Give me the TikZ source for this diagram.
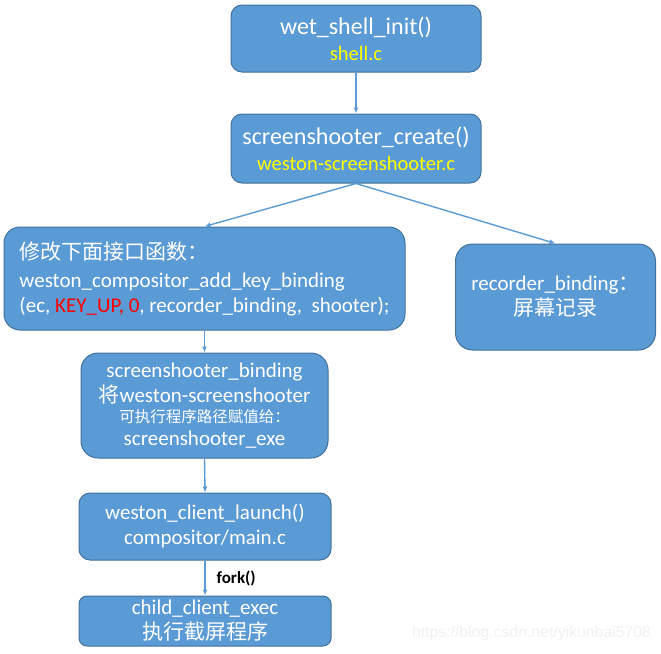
\documentclass[tikz,border=0pt]{standalone}
\usepackage{fontspec}
\setmainfont{Carlito}
\newfontfamily\cjk{Noto Sans CJK SC}
\newfontfamily\markfont{Liberation Sans}
\usetikzlibrary{arrows.meta}
\definecolor{boxblue}{HTML}{5B9BD5}
\definecolor{boxline}{HTML}{41719C}
\definecolor{fileyellow}{HTML}{FFFF00}
\definecolor{argred}{HTML}{FF0000}

\begin{document}
\begin{tikzpicture}[x=1pt, y=-1pt,
	blk/.style={draw=boxline, fill=boxblue, line width=1pt, text=white, align=center, inner sep=0pt,
		font=\fontsize{21}{25}\selectfont},
	link/.style={draw=boxblue, line width=1.4pt, -{Latex[length=6pt,width=5pt]}}]
	\useasboundingbox (0,0) rectangle (661,653);
	% boxes
	\node[blk, minimum width=250pt, minimum height=67pt, rounded corners=11pt] (init) at (356,38.5)
	{{\fontsize{24}{26}\selectfont wet\_shell\_init()}\\[1pt] {\fontsize{20.5}{25}\selectfont\color{fileyellow} shell.c}};
	\node[blk, minimum width=250pt, minimum height=69pt, rounded corners=11pt] (create) at (356,148.5)
	{{\fontsize{24}{26}\selectfont screenshooter\_create()}\\[1pt] {\fontsize{20.5}{25}\selectfont\color{fileyellow} weston-screenshooter.c}};
	\node[blk, align=left, minimum width=401pt, minimum height=103pt, rounded corners=16pt] (keybind) at (204.5,278.5)
	{{\cjk 修改下面接口函数：}\\[3pt]
	weston\_compositor\_add\_key\_binding\\
	(ec, {\color{argred}KEY\_UP, 0}, recorder\_binding,\ \ shooter);};
	\node[blk, minimum width=200pt, minimum height=106pt, rounded corners=17pt] (recorder) at (555.5,297)
	{recorder\_binding{\cjk ：}\\ {\cjk 屏幕记录}};
	\node[blk, minimum width=247pt, minimum height=105pt, rounded corners=17pt] (shootbind) at (204.5,405.5)
	{screenshooter\_binding\\ {\cjk 将}weston-screenshooter\\[-5pt]
	{\cjk\fontsize{15.5}{20}\selectfont 可执行程序路径赋值给：}\\[-2pt] screenshooter\_exe};
	\node[blk, minimum width=252pt, minimum height=67pt, rounded corners=11pt] (launch) at (205,526.5)
	{weston\_client\_launch()\\ compositor/main.c};
	\node[blk, minimum width=252pt, minimum height=50pt, rounded corners=8pt] (child) at (205,621)
	{child\_client\_exec\\ {\cjk 执行截屏程序}};
	% connectors
	\draw[link] (init.south) -- (create.north);
	\draw[link] (create.south) -- (keybind.north);
	\draw[link] (create.south) -- (recorder.north);
	\draw[link] (keybind.south) -- (shootbind.north);
	\draw[link] (shootbind.south) -- (launch.north);
	\draw[link] (launch.south) -- node[right=11pt, inner sep=0pt, font=\fontsize{17}{20}\selectfont\bfseries] (fork) {fork()} (child.north);
	% watermark
	\node[text=gray!11, font=\markfont\fontsize{15.8}{18}\selectfont] (mark) at (531.5,633) {https://blog.csdn.net/yikunbai5708};
\end{tikzpicture}
\end{document}
